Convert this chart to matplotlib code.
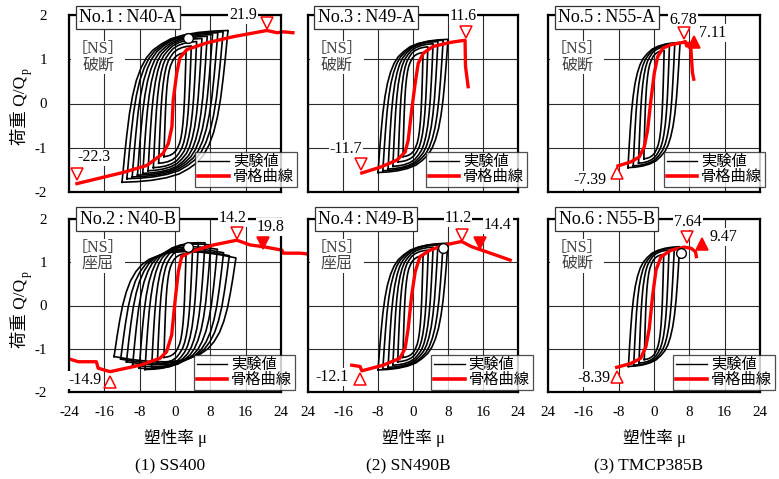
import numpy as np
import matplotlib
matplotlib.use('Agg')
import matplotlib.pyplot as plt
from matplotlib.lines import Line2D

plt.rcParams['font.family'] = ['Liberation Serif', 'Noto Sans CJK JP']

W, H = 779, 479

X_TICKS = [-24, -16, -8, 0, 8, 16, 24]
X_LABELS_FIRST = ['-24', '-16', '-8', '0', '8', '16', '24']
X_LABELS_NEXT = ['24', '-16', '-8', '0', '8', '16', '24']
Y_TICKS = [-2, -1, 0, 1, 2]

# shape of one loop branch, read off the outer loops
# (fraction of the x span, fraction of the load span)
BRANCH_TX = [0, 0.01, 0.025, 0.045, 0.07, 0.1, 0.135, 0.18, 0.23, 0.29,
             0.37, 0.46, 0.58, 0.72, 0.86, 1.0]
BRANCH_TY = [0, 0.07, 0.18, 0.31, 0.45, 0.57, 0.67, 0.755, 0.82, 0.87,
             0.91, 0.945, 0.97, 0.987, 0.996, 1.0]

# --- No.1 : N40-A
no1_amp = [2.5, 3.7, 4.9, 6.1, 7.3, 8.5, 9.7, 10.9, 12.0]
no1_pos = [1.15, 1.3, 1.4, 1.47, 1.52, 1.56, 1.6, 1.62, 1.65]
no1_neg = [-1.2, -1.35, -1.45, -1.52, -1.58, -1.62, -1.66, -1.7, -1.78]
no1_skel_x = [-22.2, -11.8, -6.4, -2.7, -1.5, -0.7, -0.4, 0.4, 1.1, 2.7,
              7.2, 13.2, 20.8, 23.1, 24.5, 26.7]
no1_skel_y = [-1.81, -1.56, -1.40, -1.13, -0.90, -0.53, 0.08, 0.69, 1.03,
              1.22, 1.37, 1.51, 1.65, 1.60, 1.62, 1.60]

# --- No.3 : N49-A
no3_amp = [2.3, 3.4, 4.6, 5.7, 6.9, 8.0]
no3_pos = [1.15, 1.28, 1.35, 1.4, 1.43, 1.45]
no3_neg = [-1.2, -1.32, -1.42, -1.48, -1.52, -1.56]
no3_skel_x = [-11.7, -7.5, -3.7, -1.8, -1.1, -0.3, 0.5, 1.2, 2.4, 4.6, 8.5,
              11.9, 12.0, 12.6]
no3_skel_y = [-1.57, -1.44, -1.28, -1.10, -0.83, -0.15, 0.46, 0.91, 1.14,
              1.29, 1.38, 1.43, 0.84, 0.38]

# --- No.5 : N55-A
no5_amp = [2.3, 3.5, 4.7, 5.9]
no5_pos = [1.2, 1.3, 1.35, 1.38]
no5_neg = [-1.25, -1.35, -1.41, -1.45]
no5_skel_x = [-8.15, -5.25, -3.35, -2.2, -1.45, -0.7, 0.07, 0.85, 2.0, 3.9,
              6.55, 7.1, 7.4, 7.7, 8.3, 8.5, 8.7, 9.0]
no5_skel_y = [-1.41, -1.32, -1.21, -0.98, -0.60, 0.08, 0.69, 1.06, 1.25,
              1.33, 1.38, 1.40, 1.30, 1.36, 1.32, 1.0, 0.7, 0.55]

# --- No.2 : N40-B (buckling, load drops at large amplitude)
no2_amp = [2.5, 4.0, 5.3, 6.8, 8.1, 9.6, 11.0, 12.3, 13.8]
no2_pos = [1.2, 1.35, 1.45, 1.45, 1.4, 1.3, 1.22, 1.15, 1.1]
no2_pos_max = [1.2, 1.35, 1.45, 1.5, 1.52, 1.5, 1.48, 1.46, 1.44]
no2_neg = [-1.2, -1.35, -1.45, -1.48, -1.45, -1.38, -1.3, -1.24, -1.18]
no2_neg_max = [-1.2, -1.35, -1.45, -1.5, -1.53, -1.53, -1.52, -1.5, -1.48]
no2_skel_x = [-23.8, -21.9, -17.8, -17.4, -14.7, -7.9, -3.4, -1.9, -0.75, 0,
              0.75, 1.5, 3.4, 8.7, 14.0, 17.0, 20.0, 24.2, 24.5, 28.3, 32.1,
              38.9, 39.7, 44.6]
no2_skel_y = [-1.24, -1.30, -1.30, -1.45, -1.53, -1.38, -1.22, -1.07, -0.68,
              0.09, 0.78, 1.13, 1.24, 1.40, 1.51, 1.40, 1.36, 1.28, 1.21,
              1.21, 1.17, 1.14, 1.08, 1.01]

# --- No.4 : N49-B
no4_amp = [2.3, 3.5, 4.6, 5.7, 6.9, 8.0]
no4_pos = [1.15, 1.28, 1.35, 1.4, 1.43, 1.44]
no4_neg = [-1.2, -1.3, -1.38, -1.43, -1.47, -1.49]
no4_skel_x = [-14.0, -12.1, -11.7, -6.8, -3.0, -1.8, -1.1, -0.3, 0.5, 1.6,
              3.9, 7.3, 11.1, 13.4, 15.7, 22.2]
no4_skel_y = [-1.38, -1.41, -1.51, -1.38, -1.22, -0.99, -0.53, 0.24, 0.78,
              1.13, 1.28, 1.40, 1.48, 1.36, 1.28, 1.05]

# --- No.6 : N55-B
no6_amp = [2.2, 3.4, 4.6, 5.8]
no6_pos = [1.18, 1.28, 1.33, 1.36]
no6_neg = [-1.25, -1.33, -1.38, -1.41]
no6_skel_x = [-8.45, -5.25, -3.0, -1.83, -1.07, -0.3, 0.46, 1.6, 3.9, 6.9,
              8.45, 9.4, 9.6]
no6_skel_y = [-1.43, -1.34, -1.22, -0.95, -0.53, 0.24, 0.82, 1.13, 1.28,
              1.35, 1.32, 1.24, 1.13]

TITLES = ['No.1\u2009:\u2009N40-A', 'No.3\u2009:\u2009N49-A',
          'No.5\u2009:\u2009N55-A', 'No.2\u2009:\u2009N40-B',
          'No.4\u2009:\u2009N49-B', 'No.6\u2009:\u2009N55-B']
MODES = ['破断', '破断', '破断', '座屈', '座屈', '破断']
SUBTITLES = ['(1) SS400', '(2) SN490B', '(3) TMCP385B']

# markers on the skeleton curve: x, y, marker, filled
no1_marks = [(20.8, 1.81, 'v', False), (-22.2, -1.59, 'v', False)]
no3_marks = [(12.0, 1.62, 'v', False), (-11.9, -1.37, 'v', False)]
no5_marks = [(6.8, 1.60, 'v', False), (9.1, 1.40, '^', True),
             (-8.45, -1.57, '^', False)]
no2_marks = [(14.0, 1.67, 'v', False), (20.0, 1.44, 'v', True),
             (-14.7, -1.76, '^', False)]
no4_marks = [(11.3, 1.63, 'v', False), (15.2, 1.44, 'v', True),
             (-12.1, -1.71, '^', False)]
no6_marks = [(7.5, 1.59, 'v', False), (10.9, 1.42, '^', True),
             (-8.45, -1.65, '^', False)]

# value labels: text, x, y, ha
no1_notes = [('21.9', 15.4, 2.0, 'center'), ('-22.3', -18.3, -1.22, 'center')]
no3_notes = [('11.6', 11.4, 1.98, 'center'), ('-11.7', -15.3, -1.03, 'center')]
no5_notes = [('6.78', 6.6, 1.89, 'center'), ('7.11', 10.3, 1.59, 'left'),
             ('-7.39', -14.4, -1.73, 'center')]
no2_notes = [('14.2', 13.1, 2.03, 'center'), ('19.8', 21.7, 1.82, 'center'),
             ('-14.9', -20.4, -1.72, 'center')]
no4_notes = [('11.2', 10.3, 2.02, 'center'), ('14.4', 19.4, 1.86, 'center'),
             ('-12.1', -18.6, -1.65, 'center')]
no6_notes = [('7.64', 7.7, 1.94, 'center'), ('9.47', 15.7, 1.59, 'center'),
             ('-8.39', -13.6, -1.68, 'center')]

no1_circle = (2.9, 1.49)
no2_circle = (3.0, 1.36)
no4_circle = (6.9, 1.32)
no6_circle = (6.0, 1.21)


def branch(x0, y0, x1, y1, y_peak):

    '''branch: one half cycle from (x0, y0) to (x1, y1), passing the
    peak load y_peak before the end (buckling) or ending on it.'''

    tx = np.array(BRANCH_TX)
    ty = np.array(BRANCH_TY)
    x = x0 + (x1 - x0) * tx
    y = y0 + (y_peak - y0) * ty + (y1 - y_peak) * tx ** 2
    return x, y


def draw_loops(ax, amp, pos, neg, pos_max=None, neg_max=None):
    pos_max = pos if pos_max is None else pos_max
    neg_max = neg if neg_max is None else neg_max
    for a, p, n, pm, nm in zip(amp, pos, neg, pos_max, neg_max):
        xu, yu = branch(-a, n, a, p, pm)
        xl, yl = branch(a, p, -a, n, nm)
        ax.plot(np.r_[xu, xl], np.r_[yu, yl], color='black', lw=1.2,
                zorder=3)


def px_axes(x0, y0, x1, y1):
    return fig.add_axes([x0 / W, 1 - y1 / H, (x1 - x0) / W, (y1 - y0) / H])


def style_axes(ax, show_x, show_y, first_col):
    ax.set_xlim(-24, 24)
    ax.set_ylim(-2, 2)
    ax.set_xticks(X_TICKS)
    ax.set_yticks(Y_TICKS)
    ax.grid(True, color='#2a2a2a', lw=0.8, zorder=1)
    ax.set_axisbelow(True)
    ax.tick_params(length=0, labelsize=10.8)
    ax.tick_params(axis='y', pad=16)
    ax.tick_params(axis='x', pad=10)
    for s in ax.spines.values():
        s.set_linewidth(1.6)
        s.set_zorder(6)
    if show_x:
        ax.set_xticklabels(X_LABELS_FIRST if first_col else X_LABELS_NEXT)
    else:
        ax.set_xticklabels([])
    if show_y:
        ax.set_yticklabels([str(v) for v in Y_TICKS])
    else:
        ax.set_yticklabels([])


def decorate(ax, title, mode, marks, notes, circle, leg_right, leg_bottom,
             title_y, mode_y):
    ax.text(0.277, title_y, title, transform=ax.transAxes, ha='center',
            va='center', fontsize=13, zorder=8,
            bbox=dict(boxstyle='square,pad=0.18', fc='white', ec='#333333',
                      lw=0.9))
    ax.text(0.137, mode_y, '［NS］\n' + mode, transform=ax.transAxes,
            ha='center', va='center', fontsize=11.5, color='#444444',
            linespacing=1.0, zorder=7,
            bbox=dict(boxstyle='square,pad=0.05', fc='white', ec='none'))
    for x, y, m, filled in marks:
        ax.plot(x, y, marker=m, ms=8, mec='red', mfc='red' if filled else 'white',
                mew=1.1, ls='none', zorder=9, clip_on=False)
    for txt, x, y, ha in notes:
        ax.text(x, y, txt, ha=ha, va='center', fontsize=11.5, zorder=8,
                bbox=dict(boxstyle='square,pad=0.05', fc='white', ec='none'))
    if circle is not None:
        ax.plot(circle[0], circle[1], 'o', ms=7, mfc='white', mec='black',
                mew=1.0, zorder=9)
    handles = [Line2D([], [], color='black', lw=1.0),
               Line2D([], [], color='red', lw=2.6)]
    leg = ax.legend(handles, ['実験値', '骨格曲線'], loc='lower right',
                    bbox_to_anchor=(leg_right, leg_bottom), fontsize=11,
                    frameon=True, fancybox=False, edgecolor='#222222',
                    borderpad=0.2, labelspacing=0.05, handlelength=2.0,
                    handletextpad=0.25, borderaxespad=0)
    leg.get_frame().set_linewidth(0.9)
    leg.set_zorder(10)


fig = plt.figure(figsize=(W / 100, H / 100), dpi=100)

cols = [(69, 281), (308, 518), (548, 760)]
rows = [(15, 192), (219, 392)]

panels = [
    (no1_amp, no1_pos, no1_neg, None, None, no1_skel_x, no1_skel_y,
     no1_marks, no1_notes, no1_circle),
    (no3_amp, no3_pos, no3_neg, None, None, no3_skel_x, no3_skel_y,
     no3_marks, no3_notes, None),
    (no5_amp, no5_pos, no5_neg, None, None, no5_skel_x, no5_skel_y,
     no5_marks, no5_notes, None),
    (no2_amp, no2_pos, no2_neg, no2_pos_max, no2_neg_max, no2_skel_x,
     no2_skel_y, no2_marks, no2_notes, no2_circle),
    (no4_amp, no4_pos, no4_neg, None, None, no4_skel_x, no4_skel_y,
     no4_marks, no4_notes, no4_circle),
    (no6_amp, no6_pos, no6_neg, None, None, no6_skel_x, no6_skel_y,
     no6_marks, no6_notes, no6_circle),
]
leg_rights = [1.075, 1.043, 1.024, 1.066, 1.07, 1.07]

for k, (amp, pos, neg, pmax, nmax, sx, sy, marks, notes, circ) in \
        enumerate(panels):
    r, c = divmod(k, 3)
    ax = px_axes(cols[c][0], rows[r][0], cols[c][1], rows[r][1])
    style_axes(ax, r == 1, c == 0, c == 0)
    draw_loops(ax, amp, pos, neg, pmax, nmax)
    ax.plot(sx, sy, color='red', lw=2.4, zorder=5, clip_on=False)
    decorate(ax, TITLES[k], MODES[k], marks, notes, circ, leg_rights[k],
             0.028 if r == 0 else 0.012, 0.985 if r == 0 else 1.0,
             0.76 if r == 0 else 0.786)

# y labels
for yc, yp in [(110, 71), (313, 274)]:
    fig.text(20 / W, 1 - yc / H, '荷重 Q/Q', rotation=90, ha='center',
             va='center', fontsize=12.5)
    fig.text(26 / W, 1 - yp / H, 'p', rotation=90, ha='center',
             va='center', fontsize=8.5)

# x labels and subtitles
for c, (x0, x1) in enumerate(cols):
    xc = (x0 + x1) / 2 / W
    fig.text(xc, 1 - 438 / H, '塑性率 μ', ha='center', va='center',
             fontsize=12)
    fig.text(xc - 5 / W, 1 - 466 / H, SUBTITLES[c], ha='center',
             va='center', fontsize=12.5)

fig.savefig('out.png', dpi=100)
